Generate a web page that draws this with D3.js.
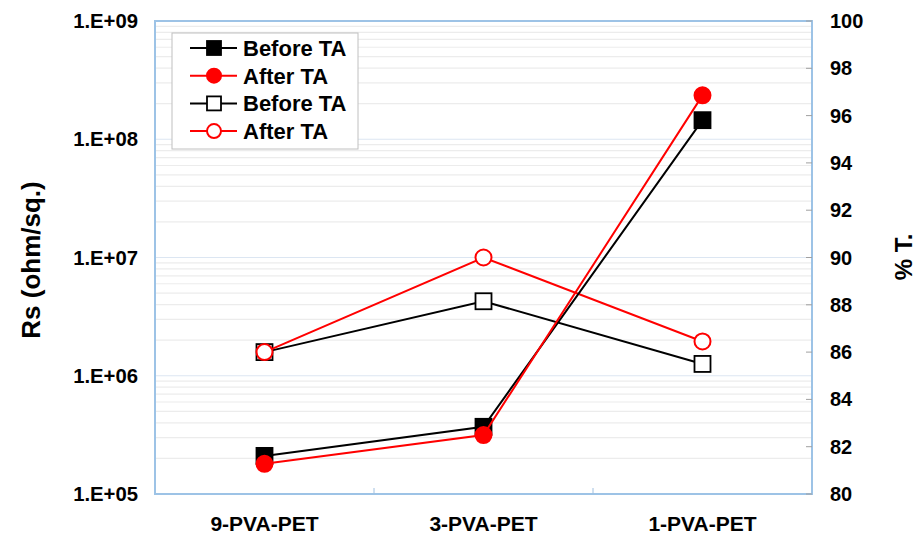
<!DOCTYPE html>
<html><head><meta charset="utf-8">
<script src="https://cdn.jsdelivr.net/npm/d3@7"></script>
<style>body{margin:0;background:#fff}text{font-family:"Liberation Sans",Arial,sans-serif;font-weight:bold}</style>
</head><body><svg id="c" width="918" height="536"></svg>
<script>
const categories = ["9-PVA-PET","3-PVA-PET","1-PVA-PET"];
const rsBefore = [2.1e5, 3.7e5, 1.45e8];
const rsAfter = [1.8e5, 3.15e5, 2.35e8];
const tBefore = [86.0, 88.15, 85.5];
const tAfter = [86.0, 90.0, 86.45];
const leftTicks = [1e5,1e6,1e7,1e8,1e9];
const leftTickLabels = ["1.E+05","1.E+06","1.E+07","1.E+08","1.E+09"];
const rightTicks = [80,82,84,86,88,90,92,94,96,98,100];
const legendLabels = ["Before TA","After TA","Before TA","After TA"];

const svg = d3.select("#c");
const L=155,R=812,T=21,B=494;
const x = d3.scaleBand().domain(categories).range([L,R]);
const yL = d3.scaleLog().domain([1e5,1e9]).range([B,T]);
const yR = d3.scaleLinear().domain([80,100]).range([B,T]);

// gridlines (minor log)
const minor=[];
for(let e=5;e<9;e++) for(let m=1;m<10;m++) minor.push(m*Math.pow(10,e));
svg.append("g").selectAll("line").data(minor).join("line")
  .attr("x1",L).attr("x2",R).attr("y1",d=>yL(d)).attr("y2",d=>yL(d))
  .attr("stroke",d=>leftTicks.includes(d)?"#dce6f2":"#ececec").attr("stroke-width",1.2);

// border
svg.append("rect").attr("x",L).attr("y",T).attr("width",R-L).attr("height",B-T)
  .attr("fill","none").attr("stroke","#9dc3e6").attr("stroke-width",2);

// right axis ticks (inward)
svg.append("g").selectAll("line").data(rightTicks).join("line")
  .attr("x1",R-6).attr("x2",R).attr("y1",d=>yR(d)).attr("y2",d=>yR(d))
  .attr("stroke","#a0a0a0");
// bottom category boundary ticks
svg.append("g").selectAll("line").data(categories.slice(1)).join("line")
  .attr("x1",d=>x(d)).attr("x2",d=>x(d)).attr("y1",B).attr("y2",B-6).attr("stroke","#a0c0e0");

// left labels
svg.append("g").selectAll("text").data(leftTicks).join("text")
  .attr("x",138).attr("y",d=>yL(d)).attr("dy","0.35em").attr("text-anchor","end")
  .attr("font-size",20.3).text((d,i)=>leftTickLabels[i]);
// right labels
svg.append("g").selectAll("text").data(rightTicks).join("text")
  .attr("x",830).attr("y",d=>yR(d)).attr("dy","0.35em").attr("text-anchor","start")
  .attr("font-size",20).text(d=>d);
// category labels
svg.append("g").selectAll("text").data(categories).join("text")
  .attr("x",d=>x(d)+x.bandwidth()/2).attr("y",531).attr("text-anchor","middle")
  .attr("font-size",21).text(d=>d);
// axis titles
svg.append("text").attr("transform","translate(40,260) rotate(-90)").attr("text-anchor","middle")
  .attr("font-size",26).text("Rs (ohm/sq.)");
svg.append("text").attr("transform","translate(912,257) rotate(-90)").attr("text-anchor","middle")
  .attr("font-size",24).text("% T.");

const cx = d=>x(d)+x.bandwidth()/2;
function series(vals, ys, color, shape, filled){
  const pts = vals.map((v,i)=>[cx(categories[i]), ys(v)]);
  svg.append("path").attr("d",d3.line()(pts)).attr("fill","none").attr("stroke",color).attr("stroke-width",2);
  const g=svg.append("g");
  pts.forEach(p=>{
    if(shape==="sq") g.append("rect").attr("x",p[0]-8).attr("y",p[1]-8).attr("width",16).attr("height",16)
      .attr("fill",filled?color:"#fff").attr("stroke",color).attr("stroke-width",1.8);
    else g.append("circle").attr("cx",p[0]).attr("cy",p[1]).attr("r",8)
      .attr("fill",filled?color:"#fff").attr("stroke",color).attr("stroke-width",2);
  });
}
series(tBefore,yR,"#000","sq",false);
series(tAfter,yR,"#ff0000","ci",false);
series(rsBefore,yL,"#000","sq",true);
series(rsAfter,yL,"#ff0000","ci",true);

// legend
const lg=svg.append("g");
lg.append("rect").attr("x",172).attr("y",33).attr("width",186).attr("height",116).attr("fill","#fff").attr("stroke","#c0c0c0").attr("stroke-width",1);
const legSpec=[["#000","sq",true],["#ff0000","ci",true],["#000","sq",false],["#ff0000","ci",false]];
legSpec.forEach((s,i)=>{
  const y=48+i*27.7;
  lg.append("line").attr("x1",190).attr("x2",237).attr("y1",y).attr("y2",y).attr("stroke",s[0]).attr("stroke-width",2);
  if(s[1]==="sq") lg.append("rect").attr("x",207).attr("y",y-7).attr("width",14).attr("height",14).attr("fill",s[2]?s[0]:"#fff").attr("stroke",s[0]).attr("stroke-width",1.8);
  else lg.append("circle").attr("cx",214).attr("cy",y).attr("r",7).attr("fill",s[2]?s[0]:"#fff").attr("stroke",s[0]).attr("stroke-width",2);
  lg.append("text").attr("x",243).attr("y",y).attr("dy","0.36em").attr("font-size",22).text(legendLabels[i]);
});
</script></body></html>
